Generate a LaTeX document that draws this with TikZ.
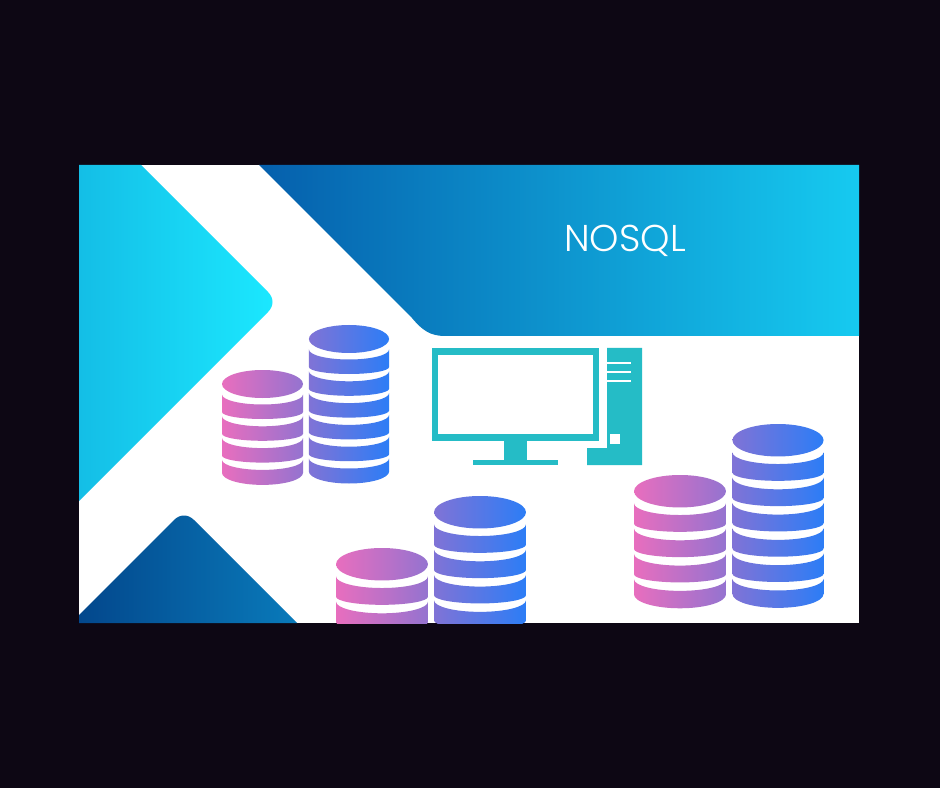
\documentclass[tikz,border=0pt]{standalone}
\usepackage{fontspec}
\newfontfamily\titlefont{Poppins Light}
\usepackage{tikz}

\definecolor{pagedark}{RGB}{13,7,20}
\definecolor{pcteal}{RGB}{37,188,198}

\tikzset{
	pinkdb/.style={left color={rgb,255:red,232;green,110;blue,190}, right color={rgb,255:red,148;green,115;blue,208}},
	tealdb/.style={left color={rgb,255:red,128;green,115;blue,214}, right color={rgb,255:red,44;green,125;blue,246}},
	pcpart/.style={fill=pcteal, draw=none},
	pcgap/.style={fill=white, draw=none}
}

% centre x, top y, x scale, y scale, plain bands, colour style
\newcommand{\dbstack}[6]{
	\begin{scope}[shift={(#1,#2)}, xscale=#3, yscale=#4]
		\shade[#6] (0,14) circle[x radius=40.5, y radius=14];
		\foreach \k in {1,...,#5} {
			\pgfmathsetmacro{\s}{24.5+21.8*(\k-1)}
			\shade[#6] (-40.5,\s) arc[start angle=180, end angle=0, x radius=40.5, y radius=10]
				-- (40.5,\s+17.5) arc[start angle=0, end angle=180, x radius=40.5, y radius=7] -- cycle;
		}
		\pgfmathsetmacro{\s}{24.5+21.8*#5}
		\shade[#6] (-40.5,\s) arc[start angle=180, end angle=0, x radius=40.5, y radius=10]
			-- (40.5,\s+13) arc[start angle=0, end angle=180, x radius=40.5, y radius=12] -- cycle;
	\end{scope}
}

\begin{document}
\begin{tikzpicture}[x=0.75pt, y=-0.75pt]
	\useasboundingbox (0,0) rectangle (940,788);
	\fill[pagedark] (0,0) rectangle (940,788);
	\fill[white] (79,165) rectangle (859,623);

	\shade[left color={rgb,255:red,20;green,190;blue,230}, right color={rgb,255:red,27;green,232;blue,255}]
		(79,165) -- (141,165) -- (268,292) .. controls (274,298) and (274,306) .. (268,312) -- (79,501) -- cycle;
	\shade[left color={rgb,255:red,3;green,71;blue,140}, right color={rgb,255:red,9;green,122;blue,186}]
		(79,615) -- (174,520) .. controls (180,514) and (188,514) .. (194,520) -- (297,623) -- (79,623) -- cycle;
	\shade[left color={rgb,255:red,5;green,95;blue,172}, right color={rgb,255:red,22;green,202;blue,240}]
		(259,165) -- (859,165) -- (859,336) -- (445,336)
		.. controls (430,336) and (422,330) .. (412,318) -- cycle;

	\node[text=white, font=\titlefont\fontsize{28}{28}\selectfont, inner sep=0pt] (title) at (625,241) {NOSQL};

	% monitor and tower
	\fill[pcpart] (432,348) rectangle (599,441);
	\fill[pcgap] (438,355) rectangle (593,434);
	\fill[pcpart] (504,441) rectangle (527,460);
	\fill[pcpart] (473,460) rectangle (558,465);
	\fill[pcpart] (607,348) -- (642,348) -- (642,465) -- (587,465) -- (587,448) -- (607,448) -- cycle;
	\foreach \y in {363,372,381}
		\draw[white, line width=1.2pt] (607,\y) -- (631,\y);
	\fill[pcgap] (610,434) rectangle (620,444);

	\dbstack{262.5}{370}{1}{1}{3}{pinkdb}
	\dbstack{349}{325}{0.99}{1}{5}{tealdb}
	\dbstack{680}{475}{1.135}{1.16}{3}{pinkdb}
	\dbstack{778}{424}{1.125}{1.16}{5}{tealdb}
	\begin{scope}
		\clip (79,165) rectangle (859,623);
		\dbstack{382}{548}{1.135}{1.16}{3}{pinkdb}
		\dbstack{480}{496}{1.135}{1.16}{5}{tealdb}
	\end{scope}
\end{tikzpicture}
\end{document}
